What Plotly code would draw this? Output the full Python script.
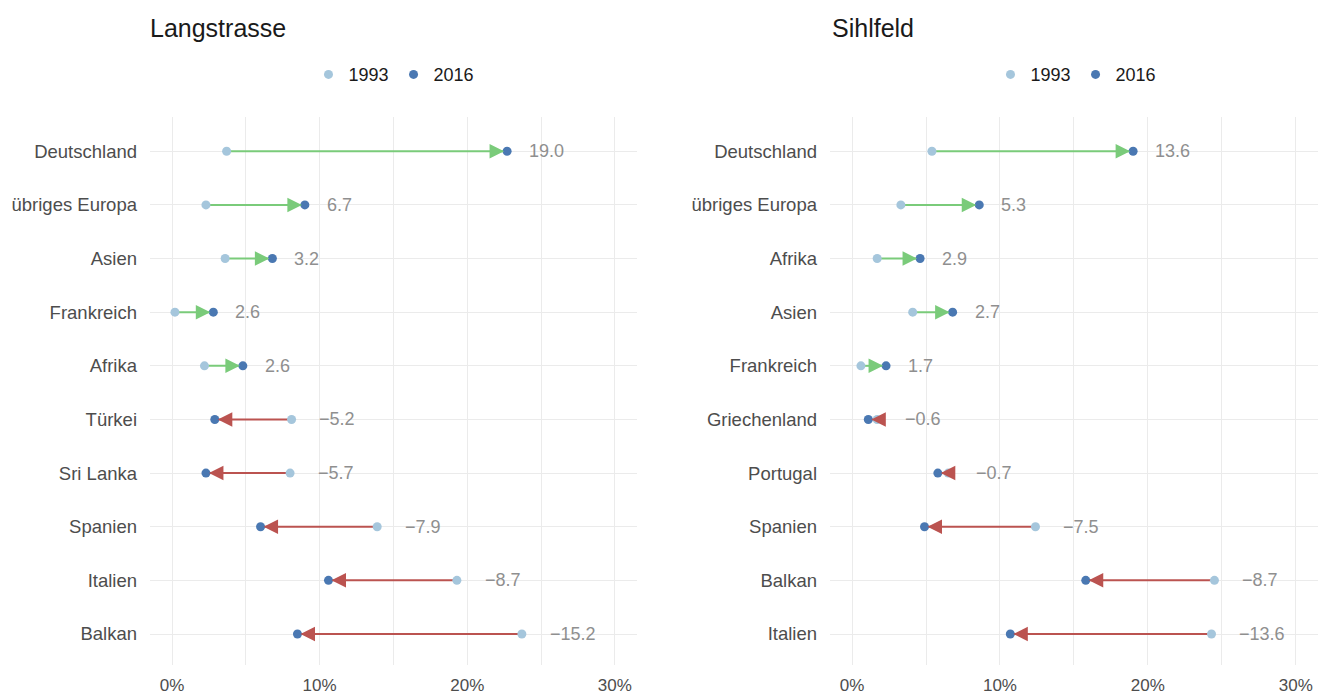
import plotly.graph_objects as go

# ---------------- data ----------------
lang_categories = ["Deutschland", "übriges Europa", "Asien", "Frankreich", "Afrika",
                   "Türkei", "Sri Lanka", "Spanien", "Italien", "Balkan"]
lang_1993 = [3.7, 2.3, 3.6, 0.2, 2.2, 8.1, 8.0, 13.9, 19.3, 23.7]
lang_2016 = [22.7, 9.0, 6.8, 2.8, 4.8, 2.9, 2.3, 6.0, 10.6, 8.5]

sihl_categories = ["Deutschland", "übriges Europa", "Afrika", "Asien", "Frankreich",
                   "Griechenland", "Portugal", "Spanien", "Balkan", "Italien"]
sihl_1993 = [5.4, 3.3, 1.7, 4.1, 0.6, 1.7, 6.5, 12.4, 24.5, 24.3]
sihl_2016 = [19.0, 8.6, 4.6, 6.8, 2.3, 1.1, 5.8, 4.9, 15.8, 10.7]

titles = ["Langstrasse", "Sihlfeld"]
years = ["1993", "2016"]
x_tickvals = [0, 10, 20, 30]
x_ticktext = ["0%", "10%", "20%", "30%"]

# ---------------- style ----------------
FONT = "Liberation Sans, Arial, Helvetica, sans-serif"
C1993 = "#a5c6dc"
C2016 = "#4a78b2"
CUP = "#7acb7a"
CDOWN = "#bb5350"
GRID = "#ebebeb"
W, H = 1335, 695
HEAD_PX = 16

fig = go.Figure()

panels = [
    (lang_categories, lang_1993, lang_2016, "x", "y", "legend"),
    (sihl_categories, sihl_1993, sihl_2016, "x2", "y2", "legend2"),
]

annotations = []
for cats, v93, v16, xa, ya, leg in panels:
    idx = list(range(len(cats)))
    # segments (drawn below the points)
    for up, col in [(True, CUP), (False, CDOWN)]:
        xs, ys = [], []
        for i, (a, b) in enumerate(zip(v93, v16)):
            if (b > a) == up:
                xs += [a, b, None]
                ys += [i, i, None]
        fig.add_trace(go.Scatter(
            x=xs, y=ys, mode="lines", xaxis=xa, yaxis=ya, showlegend=False,
            line=dict(color=col, width=2), hoverinfo="skip"))
    # arrow heads + labels
    for i, (a, b) in enumerate(zip(v93, v16)):
        d = round(b - a, 1)
        col = CUP if d > 0 else CDOWN
        annotations.append(dict(
            x=b, y=i, xref=xa, yref=ya, ax=-HEAD_PX if d > 0 else HEAD_PX, ay=0,
            showarrow=True, arrowhead=2, arrowsize=1.45, arrowwidth=2,
            arrowcolor=col, standoff=3, text=""))
        lab = f"{abs(d):.1f}" if d > 0 else "\u2212" + f"{abs(d):.1f}"
        annotations.append(dict(
            x=max(a, b) + (1.35 if d > 0 else 1.75), y=i, xref=xa, yref=ya,
            text=lab, showarrow=False, xanchor="left", yanchor="middle",
            font=dict(family=FONT, size=18, color="#8f8f8f")))
    fig.add_trace(go.Scatter(
        x=v93, y=idx, mode="markers", name=years[0], xaxis=xa, yaxis=ya, legend=leg,
        marker=dict(color=C1993, size=9), hoverinfo="skip"))
    fig.add_trace(go.Scatter(
        x=v16, y=idx, mode="markers", name=years[1], xaxis=xa, yaxis=ya, legend=leg,
        marker=dict(color=C2016, size=9), hoverinfo="skip"))

# titles
for t, xp in zip(titles, [148, 830]):
    annotations.append(dict(
        x=xp / W, y=1 - 28 / H, xref="paper", yref="paper", text=t, showarrow=False,
        xanchor="left", yanchor="middle",
        font=dict(family=FONT, size=25, color="#1a1a1a")))

def xaxis(domain, anchor):
    return dict(domain=domain, range=[-1.49, 31.5], tickvals=x_tickvals, ticktext=x_ticktext,
                anchor=anchor,
                showgrid=True, gridcolor=GRID, gridwidth=1, zeroline=False, showline=False,
                ticks="", ticklabelstandoff=8,
                tickfont=dict(family=FONT, size=17, color="#4d4d4d"),
                minor=dict(dtick=5, tick0=0, showgrid=True, gridcolor=GRID, gridwidth=1))

def yaxis(cats, anchor):
    return dict(domain=[1 - 668 / H, 1 - 118 / H], range=[9.58, -0.63],
                tickvals=list(range(len(cats))), ticktext=cats, anchor=anchor,
                showgrid=True, gridcolor=GRID, gridwidth=1, zeroline=False, showline=False,
                ticks="", ticklabelstandoff=12,
                tickfont=dict(family=FONT, size=18.5, color="#4d4d4d"))

leg_common = dict(orientation="h", yanchor="middle", y=1 - 75 / H, xanchor="center",
                  font=dict(family=FONT, size=18, color="#1a1a1a"),
                  bgcolor="rgba(0,0,0,0)", itemclick=False)

fig.update_layout(
    width=W, height=H,
    margin=dict(l=0, r=0, t=0, b=0),
    paper_bgcolor="white", plot_bgcolor="white",
    font=dict(family=FONT),
    xaxis=xaxis([150 / W, 637 / W], "y"),
    yaxis=yaxis(lang_categories, "x"),
    xaxis2=xaxis([830 / W, 1318 / W], "y2"),
    yaxis2=yaxis(sihl_categories, "x2"),
    legend=dict(x=394 / W, **leg_common),
    legend2=dict(x=1076 / W, **leg_common),
    annotations=annotations,
    showlegend=True,
)

fig.write_html("out.html", config={"displayModeBar": False},
               post_script="document.body.style.margin='0';")
